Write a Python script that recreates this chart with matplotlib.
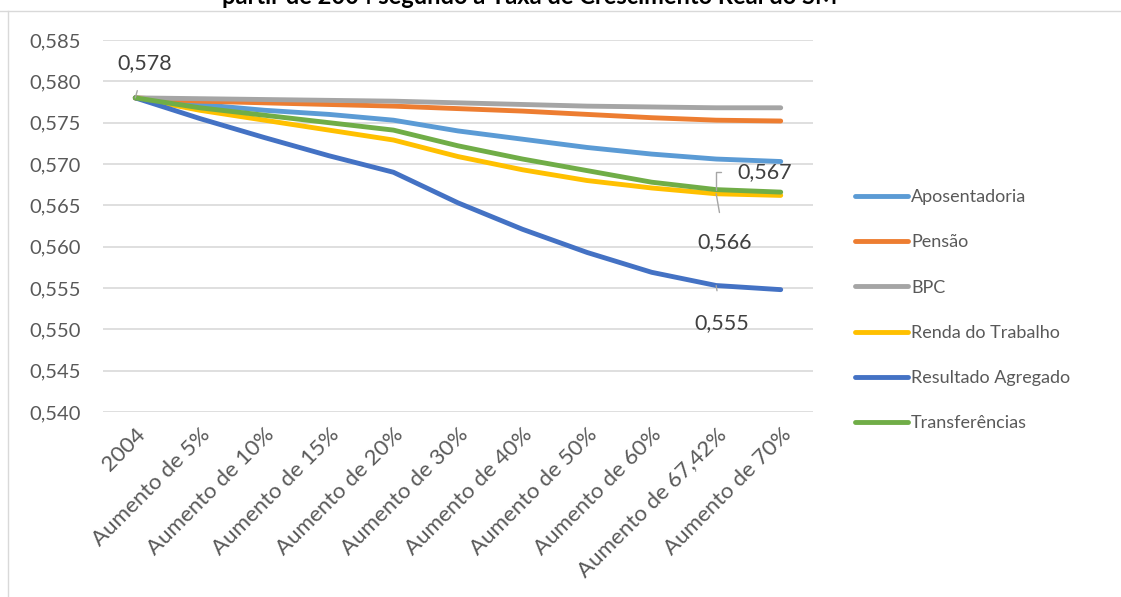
import matplotlib
matplotlib.use("Agg")
import matplotlib.pyplot as plt
from matplotlib.ticker import FuncFormatter, FixedLocator

plt.rcParams['font.family'] = ['Lato', 'DejaVu Sans']

categories = ["2004", "Aumento de 5%", "Aumento de 10%", "Aumento de 15%", "Aumento de 20%",
              "Aumento de 30%", "Aumento de 40%", "Aumento de 50%", "Aumento de 60%",
              "Aumento de 67,42%", "Aumento de 70%"]

aposentadoria = [0.578, 0.5772, 0.5765, 0.5760, 0.5753, 0.5740, 0.5730, 0.5720, 0.5712, 0.5706, 0.5703]
pensao        = [0.578, 0.5776, 0.5774, 0.5772, 0.5770, 0.5767, 0.5764, 0.5760, 0.5756, 0.5753, 0.5752]
bpc           = [0.578, 0.5779, 0.5778, 0.5777, 0.5776, 0.5774, 0.5772, 0.5770, 0.5769, 0.5768, 0.5768]
renda         = [0.578, 0.5765, 0.5753, 0.5741, 0.5729, 0.5709, 0.5693, 0.5680, 0.5671, 0.5664, 0.5662]
agregado      = [0.578, 0.5755, 0.5732, 0.5710, 0.5690, 0.5653, 0.5621, 0.5593, 0.5569, 0.5553, 0.5548]
transf        = [0.578, 0.5768, 0.5759, 0.5750, 0.5741, 0.5722, 0.5706, 0.5692, 0.5678, 0.5669, 0.5666]

series = [
    ("Aposentadoria", aposentadoria, "#5B9BD5"),
    ("Pensão", pensao, "#ED7D31"),
    ("BPC", bpc, "#A5A5A5"),
    ("Renda do Trabalho", renda, "#FFC000"),
    ("Resultado Agregado", agregado, "#4472C4"),
    ("Transferências", transf, "#70AD47"),
]

yticks = [0.540, 0.545, 0.550, 0.555, 0.560, 0.565, 0.570, 0.575, 0.580, 0.585]

W, H = 1121, 597
fig = plt.figure(figsize=(W/100, H/100), dpi=100)
ax = fig.add_axes([103/W, 1-412/H, 710/W, 372/H])

x = list(range(len(categories)))
for name, vals, col in series:
    ax.plot(x, vals, color=col, lw=3.5, solid_capstyle='round', solid_joinstyle='round', label=name)

ax.set_xlim(-0.5, len(categories)-0.5)
ax.set_ylim(yticks[0], yticks[-1])
ax.yaxis.set_major_locator(FixedLocator(yticks))
ax.yaxis.set_major_formatter(FuncFormatter(lambda v, p: f"{v:.3f}".replace('.', ',')))
ax.grid(axis='y', color='#D9D9D9', lw=1.2)
ax.set_axisbelow(True)
for s in ax.spines.values():
    s.set_visible(False)
ax.tick_params(axis='both', length=0, colors='#595959')
ax.tick_params(axis='y', pad=16, labelsize=14.5)
ax.set_xticks(x)
ax.set_xticklabels(categories, rotation=45, ha='right', va='top', rotation_mode='anchor')
ax.tick_params(axis='x', pad=9, labelsize=16)

txtc = '#404040'
lead = dict(arrowstyle='-', color='#A6A6A6', lw=1, shrinkB=0)
ax.annotate("0,578", xy=(0, agregado[0]), xytext=(0.15, 0.5822), fontsize=15.5, color=txtc,
            ha='center', va='center', arrowprops=dict(lead, shrinkA=11))
ax.annotate("0,567", xy=(9, transf[9]), xytext=(9.75, 0.5690), fontsize=15.5, color=txtc,
            ha='center', va='center',
            arrowprops=dict(lead, shrinkA=10, relpos=(0, 0.5),
                            connectionstyle='angle,angleA=0,angleB=90,rad=0'))
ax.annotate("0,566", xy=(9, renda[9]), xytext=(9.13, 0.5606), fontsize=15.5, color=txtc,
            ha='center', va='center', arrowprops=dict(lead, shrinkA=12))
ax.annotate("0,555", xy=(9, agregado[9]), xytext=(9.09, 0.5508), fontsize=15.5, color=txtc,
            ha='center', va='center', arrowprops=dict(lead, shrinkA=14))

leg = fig.legend(loc='upper left', bbox_to_anchor=(848/W, 1-182/H), frameon=False,
                 fontsize=13, labelcolor='#595959', handlelength=2.9, handletextpad=0.2,
                 labelspacing=1.62, borderaxespad=0)

fig.text(530/W, 1-4/H, "partir de 2004 segundo a Taxa de Crescimento Real do SM",
         ha='center', va='baseline', fontsize=17, fontweight='bold', color='black')

fig.add_artist(plt.Line2D([0, 1], [1-11/H, 1-11/H], color='#D9D9D9', lw=1, transform=fig.transFigure))
fig.add_artist(plt.Line2D([8/W, 8/W], [0, 1-11/H], color='#D9D9D9', lw=1, transform=fig.transFigure))

fig.savefig("out.png", dpi=100)
